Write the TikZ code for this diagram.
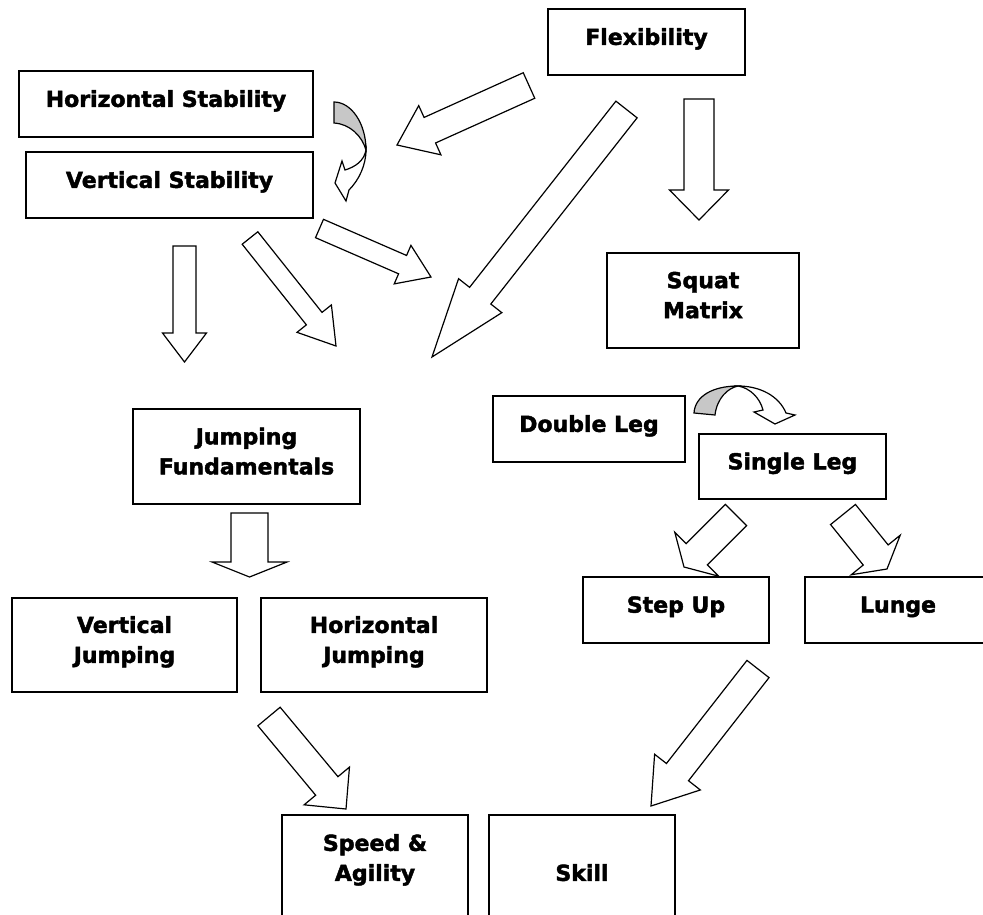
\documentclass[tikz,border=0pt]{standalone}
\usepackage{fontspec}
\setmainfont{DejaVu Sans}[BoldFeatures = {FakeBold = 2}]
\usetikzlibrary{calc}
\tikzset{
    box/.style = {draw, line width = 1.4pt, align = center, inner sep = 0pt,
        font = \bfseries\fontsize{22}{30}\selectfont,
        execute at end node = {\rule[-11pt]{0pt}{1pt}}},
    cutbox/.style = {box, execute at end node = {\rule[-45pt]{0pt}{1pt}}},
    blockarr/.style = {draw, fill = white, line width = 1.2pt, line join = miter},
    turnback/.style = {draw, fill = black!22, line width = 1.2pt},
    turnfront/.style = {draw, fill = white, line width = 1.2pt}
}
% tail, tip, half shaft width, half head width, head length
\newcommand{\blockarrow}[5]{%
    \coordinate (ba-root) at ($(#2)!#5pt!(#1)$);
    \draw[blockarr] ($(#1)!#3pt!90:(#2)$) -- ($(ba-root)!#3pt!90:(#2)$)
        -- ($(ba-root)!#4pt!90:(#2)$) -- (#2) -- ($(ba-root)!#4pt!-90:(#2)$)
        -- ($(ba-root)!#3pt!-90:(#2)$) -- ($(#1)!#3pt!-90:(#2)$) -- cycle;}
\begin{document}
\begin{tikzpicture}[x = 1pt, y = -1pt]
                \useasboundingbox (0,0) rectangle (983,915);
                \clip (0,0) rectangle (983,915);
                \node[box, minimum width = 197, minimum height = 66] (flex) at (646.5,42) {Flexibility};
                \node[box, minimum width = 294, minimum height = 66] (hstab) at (166,104) {Horizontal Stability};
                \node[box, minimum width = 287, minimum height = 66] (vstab) at (169.5,185) {Vertical Stability};
                \node[box, minimum width = 192, minimum height = 95] (squat) at (703,300.5) {Squat\\Matrix};
                \node[box, minimum width = 192, minimum height = 66] (dleg) at (589,429) {Double Leg};
                \node[box, minimum width = 187, minimum height = 65] (sleg) at (792.5,466.5) {Single Leg};
                \node[box, minimum width = 227, minimum height = 95] (jfund) at (246.5,456.5) {Jumping\\Fundamentals};
                \node[box, minimum width = 225, minimum height = 94] (vjump) at (124.5,645) {Vertical\\Jumping};
                \node[box, minimum width = 226, minimum height = 94] (hjump) at (374,645) {Horizontal\\Jumping};
                \node[box, minimum width = 186, minimum height = 66] (stepup) at (676,610) {Step Up};
                \node[box, minimum width = 186, minimum height = 66] (lunge) at (898,610) {Lunge};
                \node[cutbox, minimum width = 186, minimum height = 130] (speed) at (375,880) {Speed \&\\Agility};
                \node[cutbox, minimum width = 186, minimum height = 130] (skill) at (582,880) {\vphantom{Sl}\\Skill};
                \coordinate (flexsquat-s) at (699,99);
                \coordinate (flexsquat-e) at (699,220);
                \coordinate (flexstab-s) at (529,85.5);
                \coordinate (flexstab-e) at (397,145);
                \coordinate (flexjump-s) at (626.5,109.5);
                \coordinate (flexjump-e) at (432,357);
                \coordinate (stabdown-s) at (184.5,246);
                \coordinate (stabdown-e) at (184.5,362);
                \coordinate (stabdiag-s) at (250,238);
                \coordinate (stabdiag-e) at (336,346);
                \coordinate (stabright-s) at (319.5,228.5);
                \coordinate (stabright-e) at (431,277);
                \coordinate (jfund-s) at (249.5,513);
                \coordinate (jfund-e) at (249.5,577);
                \coordinate (legstep-s) at (736,515);
                \coordinate (legstep-e) at (684,567);
                \coordinate (leglunge-s) at (843,514.5);
                \coordinate (leglunge-e) at (887,569);
                \coordinate (jumpspeed-s) at (269,716.5);
                \coordinate (jumpspeed-e) at (346,809);
                \coordinate (stepskill-s) at (758,669);
                \coordinate (stepskill-e) at (651,806);
                \blockarrow{flexsquat-s}{flexsquat-e}{15}{29.5}{30}
                \blockarrow{flexstab-s}{flexstab-e}{14}{27}{36}
                \blockarrow{flexjump-s}{flexjump-e}{13.5}{27.5}{78}
                \blockarrow{stabdown-s}{stabdown-e}{11.5}{22}{29}
                \blockarrow{stabdiag-s}{stabdiag-e}{10}{22}{35}
                \blockarrow{stabright-s}{stabright-e}{10}{21}{31}
                \blockarrow{jfund-s}{jfund-e}{18.5}{37.5}{15}
                \blockarrow{legstep-s}{legstep-e}{15}{31}{18}
                \blockarrow{leglunge-s}{leglunge-e}{16}{31.5}{18}
                \blockarrow{jumpspeed-s}{jumpspeed-e}{14.5}{29.5}{30}
                \blockarrow{stepskill-s}{stepskill-e}{14}{29}{43}
                % curved arrows
                \draw[turnback] (334,102) .. controls (351,102) and (366,123) .. (366,150)
                    .. controls (362,136) and (350,124) .. (334,123) -- cycle;
                \draw[turnfront] (366,150) .. controls (364,161) and (355,167) .. (345,170)
                    -- (342,161) -- (335,183) -- (346,201) -- (349,190)
                    .. controls (359,180) and (366,165) .. (366,150) -- cycle;
                \draw[turnback] (694,413) .. controls (695,396) and (713,386) .. (738,386)
                    .. controls (728,388) and (717,398) .. (715,415) -- cycle;
                \draw[turnfront] (738,386) .. controls (750,388) and (760,398) .. (763,410)
                    -- (754,412) -- (775,424) -- (795,415) -- (786,413)
                    .. controls (779,396) and (760,386) .. (738,386) -- cycle;
\end{tikzpicture}
\end{document}
